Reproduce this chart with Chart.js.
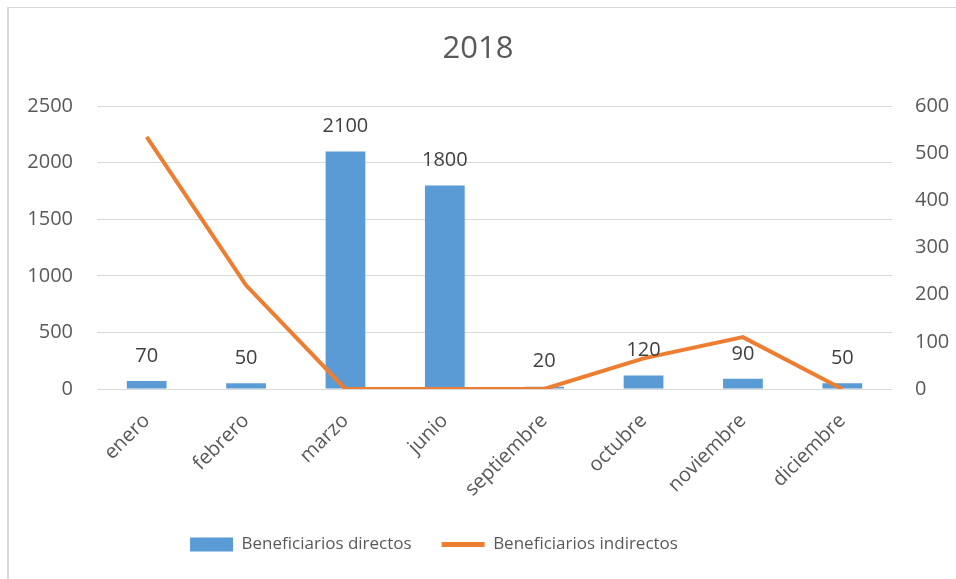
<!DOCTYPE html>
<html>
<head>
<meta charset="utf-8">
<script src="https://cdn.jsdelivr.net/npm/chart.js"></script>
<style>
  html, body { margin: 0; padding: 0; background: #fff; overflow: hidden; }
  #wrap { position: relative; width: 956px; height: 579px; }
</style>
</head>
<body>
<div id="wrap"><canvas id="myChart"></canvas></div>
<script>
const ctx = document.getElementById('myChart');

const meses = ['enero', 'febrero', 'marzo', 'junio', 'septiembre', 'octubre', 'noviembre', 'diciembre'];
const directos = [70, 50, 2100, 1800, 20, 120, 90, 50];
const indirectos = [535, 220, 0, 0, 0, 65, 110, 0];
const ticksIzq = [0, 500, 1000, 1500, 2000, 2500];
const ticksDer = [0, 100, 200, 300, 400, 500, 600];

const gris = '#595959';
const fuente = "'Open Sans', 'Liberation Sans', sans-serif";

// frame lines of the original screenshot
const marco = {
  id: 'marco',
  beforeDraw(chart) {
    const c = chart.ctx;
    c.save();
    c.fillStyle = '#d9d9d9';
    c.fillRect(7, 7, chart.width - 7, 1);
    c.fillRect(7, 7, 2, chart.height - 7);
    c.restore();
  }
};

// value labels over the bars
const etiquetas = {
  id: 'etiquetas',
  afterDatasetsDraw(chart) {
    const c = chart.ctx;
    const meta = chart.getDatasetMeta(1);
    c.save();
    c.font = '20px ' + fuente;
    c.fillStyle = '#404040';
    c.textAlign = 'center';
    c.textBaseline = 'middle';
    meta.data.forEach((bar, i) => {
      c.fillText(directos[i], bar.x, bar.y - 25);
    });
    c.restore();
  }
};

// move the legend a bit to the left like the original
const legendaIzq = {
  id: 'legendaIzq',
  afterLayout(chart) {
    chart.legend.right -= 88;
  }
};

new Chart(ctx, {
  type: 'bar',
  data: {
    labels: meses,
    datasets: [{
      type: 'line',
      label: 'Beneficiarios indirectos',
      data: indirectos,
      yAxisID: 'y1',
      borderColor: '#ED7D31',
      backgroundColor: '#ED7D31',
      borderWidth: 4,
      pointRadius: 0,
      tension: 0,
      order: 0
    }, {
      label: 'Beneficiarios directos',
      data: directos,
      yAxisID: 'y',
      backgroundColor: '#5B9BD5',
      barPercentage: 0.4,
      categoryPercentage: 1,
      order: 1
    }]
  },
  options: {
    responsive: true,
    maintainAspectRatio: false,
    animation: false,
    layout: { padding: { left: 0, right: 0, top: 0, bottom: 16 } },
    plugins: {
      title: {
        display: true,
        text: '2018',
        color: gris,
        font: { family: fuente, size: 31, weight: 'normal' },
        padding: { top: 31, bottom: 38 }
      },
      legend: {
        position: 'bottom',
        reverse: true,
        labels: {
          color: gris,
          font: { family: fuente, size: 17 },
          usePointStyle: true,
          boxHeight: 14,
          pointStyleWidth: 43,
          padding: 30,
          generateLabels(chart) {
            return chart.data.datasets.map((ds, i) => ({
              text: ds.label,
              datasetIndex: i,
              fillStyle: ds.backgroundColor,
              strokeStyle: ds.type === 'line' ? ds.borderColor : ds.backgroundColor,
              lineWidth: ds.type === 'line' ? 5 : 0,
              pointStyle: ds.type === 'line' ? 'line' : 'rect',
              fontColor: gris,
              hidden: false
            }));
          }
        }
      },
      tooltip: { enabled: false }
    },
    scales: {
      x: {
        grid: { display: false },
        border: { display: false },
        ticks: {
          color: gris,
          font: { family: fuente, size: 20 },
          minRotation: 45,
          maxRotation: 45,
          padding: 12
        },
        afterFit(scale) { scale.height = 117; }
      },
      y: {
        position: 'left',
        min: 0,
        max: 2500,
        afterBuildTicks(scale) { scale.ticks = ticksIzq.map(v => ({ value: v })); },
        grid: { color: '#d9d9d9', lineWidth: 1, drawTicks: false },
        border: { display: false },
        ticks: {
          color: gris,
          font: { family: fuente, size: 20 },
          padding: 24,
          callback: v => String(v)
        },
        afterFit(scale) { scale.width = 97; }
      },
      y1: {
        position: 'right',
        min: 0,
        max: 600,
        afterBuildTicks(scale) { scale.ticks = ticksDer.map(v => ({ value: v })); },
        grid: { drawOnChartArea: false, drawTicks: false },
        border: { display: false },
        ticks: {
          color: gris,
          font: { family: fuente, size: 20 },
          padding: 23,
          callback: v => String(v)
        },
        afterFit(scale) { scale.width = 64; }
      }
    }
  },
  plugins: [marco, etiquetas, legendaIzq]
});
</script>
</body>
</html>
